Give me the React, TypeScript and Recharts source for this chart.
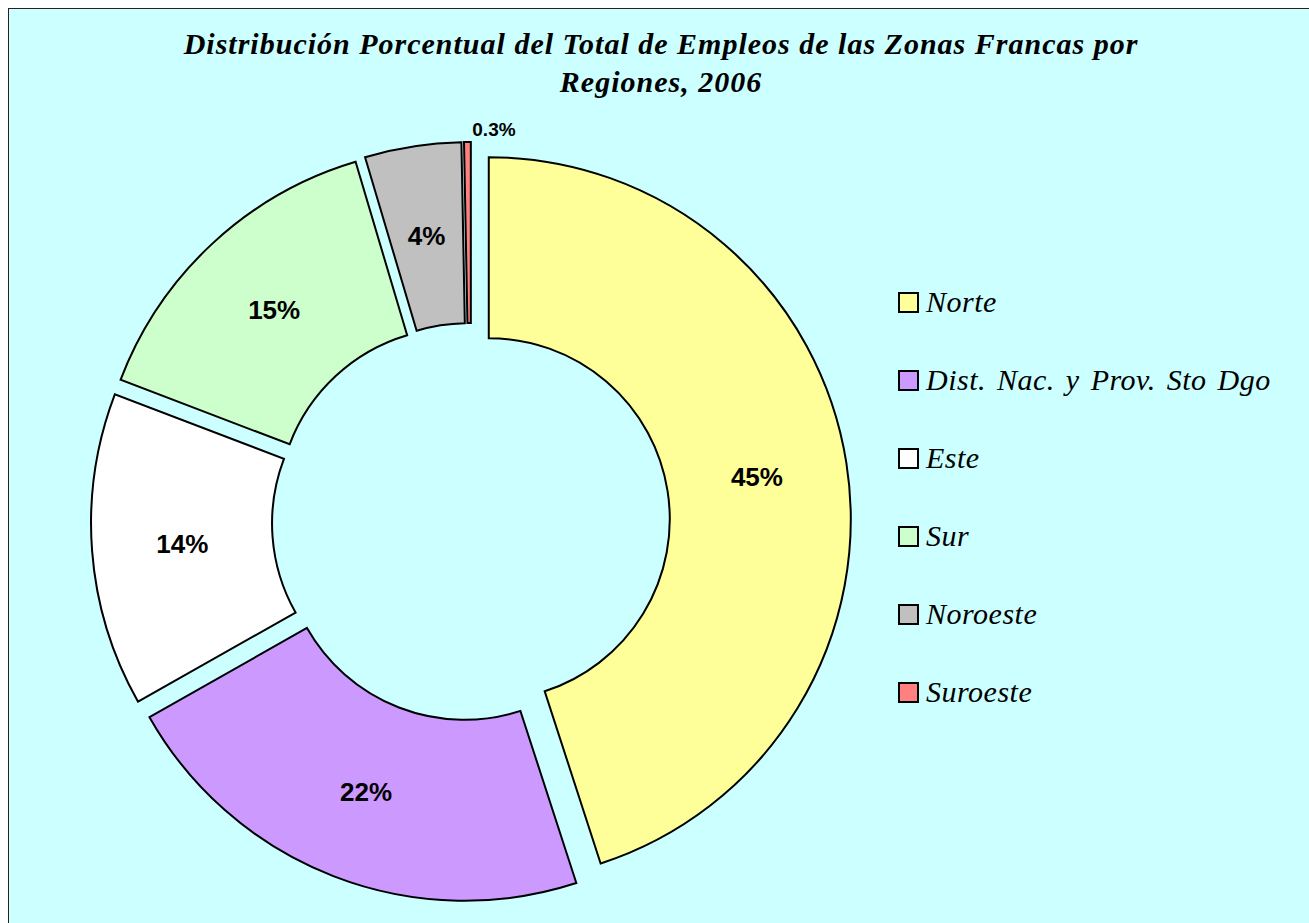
import React from 'react';
import { PieChart, Pie, Cell, Legend } from 'recharts';

// ---- data ----
const regions = ['Norte', 'Dist. Nac. y Prov. Sto Dgo', 'Este', 'Sur', 'Noroeste', 'Suroeste'];
const shares = [45.0, 21.8, 14.0, 14.6, 4.3, 0.3];
const colors = ['#FFFF99', '#CC99FF', '#FFFFFF', '#CCFFCC', '#C0C0C0', '#FF8080'];
const titleLines = [
  'Distribución Porcentual del Total de Empleos de las Zonas Francas por',
  'Regiones, 2006',
];

const data = regions.map((name, i) => ({ name, value: shares[i] }));

// ---- layout ----
const CHART_W = 1300;
const CHART_H = 914;
const CX = 462;
const CY = 513;
const R_OUT = 362;
const R_IN = 181;
const EXPLODE = 18;
const RAD = Math.PI / 180;

const total = shares.reduce((a, b) => a + b, 0);
const offsets = shares.map((v, i) => {
  const before = shares.slice(0, i).reduce((a, b) => a + b, 0);
  const theta = ((before + v / 2) / total) * 2 * Math.PI;
  return { dx: EXPLODE * Math.sin(theta), dy: -EXPLODE * Math.cos(theta) };
});

const makeLabel = (k: number) => (props: any) => {
  const { cx, cy, midAngle, innerRadius, outerRadius, index, value } = props;
  if (index !== k) return null;
  const small = value < 1;
  const r = small ? outerRadius + 13 : (innerRadius + outerRadius) / 2;
  const x = cx + r * Math.cos(-midAngle * RAD);
  const y = cy + r * Math.sin(-midAngle * RAD);
  const text = small ? `${value.toFixed(1)}%` : `${Math.round(value)}%`;
  return (
    <text
      x={small ? x + 5 : x}
      y={y}
      textAnchor={small ? 'start' : 'middle'}
      dominantBaseline="central"
      fontFamily="'Liberation Sans', Arial, sans-serif"
      fontWeight="bold"
      fontSize={small ? 19 : 26}
      fill="#000"
    >
      {text}
    </text>
  );
};

const renderLegend = () => (
  <div>
    {regions.map((name, i) => (
      <div key={name} style={{ display: 'flex', alignItems: 'center', height: 78 }}>
        <div
          style={{
            width: 21,
            height: 21,
            boxSizing: 'border-box',
            border: '2px solid #000',
            background: colors[i],
            flex: 'none',
          }}
        />
        <span
          style={{
            marginLeft: 7,
            fontFamily: "'Liberation Serif', 'Times New Roman', serif",
            fontStyle: 'italic',
            fontSize: 30,
            lineHeight: '30px',
            letterSpacing: 0.5,
            wordSpacing: 3,
            color: '#000',
            whiteSpace: 'nowrap',
          }}
        >
          {name}
        </span>
      </div>
    ))}
  </div>
);

export default function App() {
  return (
    <div
      style={{
        position: 'absolute',
        left: 8,
        top: 8,
        width: 1301,
        height: 915,
        boxSizing: 'border-box',
        borderLeft: '1px solid #222',
        borderTop: '1px solid #222',
        background: '#CCFFFF',
        overflow: 'hidden',
      }}
    >
      <div
        style={{
          position: 'absolute',
          left: 0,
          top: 16,
          width: 1304,
          textAlign: 'center',
          fontFamily: "'Liberation Serif', 'Times New Roman', serif",
          fontStyle: 'italic',
          fontWeight: 'bold',
          fontSize: 30,
          letterSpacing: 1,
          lineHeight: '38px',
          color: '#000',
          zIndex: 2,
        }}
      >
        {titleLines.map((t) => (
          <div key={t}>{t}</div>
        ))}
      </div>
      <PieChart width={CHART_W} height={CHART_H} margin={{ top: 0, right: 0, bottom: 0, left: 0 }}>
        {regions.map((name, k) => (
          <Pie
            key={name}
            data={data}
            dataKey="value"
            nameKey="name"
            cx={CX + offsets[k].dx}
            cy={CY + offsets[k].dy}
            innerRadius={R_IN}
            outerRadius={R_OUT}
            startAngle={90}
            endAngle={-270}
            isAnimationActive={false}
            labelLine={false}
            label={makeLabel(k)}
            legendType="none"
          >
            {data.map((d, i) => (
              <Cell
                key={d.name}
                fill={i === k ? colors[i] : 'none'}
                stroke={i === k ? '#000' : 'none'}
                strokeWidth={2}
              />
            ))}
          </Pie>
        ))}
        <Legend
          layout="vertical"
          align="right"
          verticalAlign="middle"
          content={renderLegend}
          wrapperStyle={{ left: 889, top: 254, right: 'auto', bottom: 'auto', width: 410 }}
        />
      </PieChart>
    </div>
  );
}
